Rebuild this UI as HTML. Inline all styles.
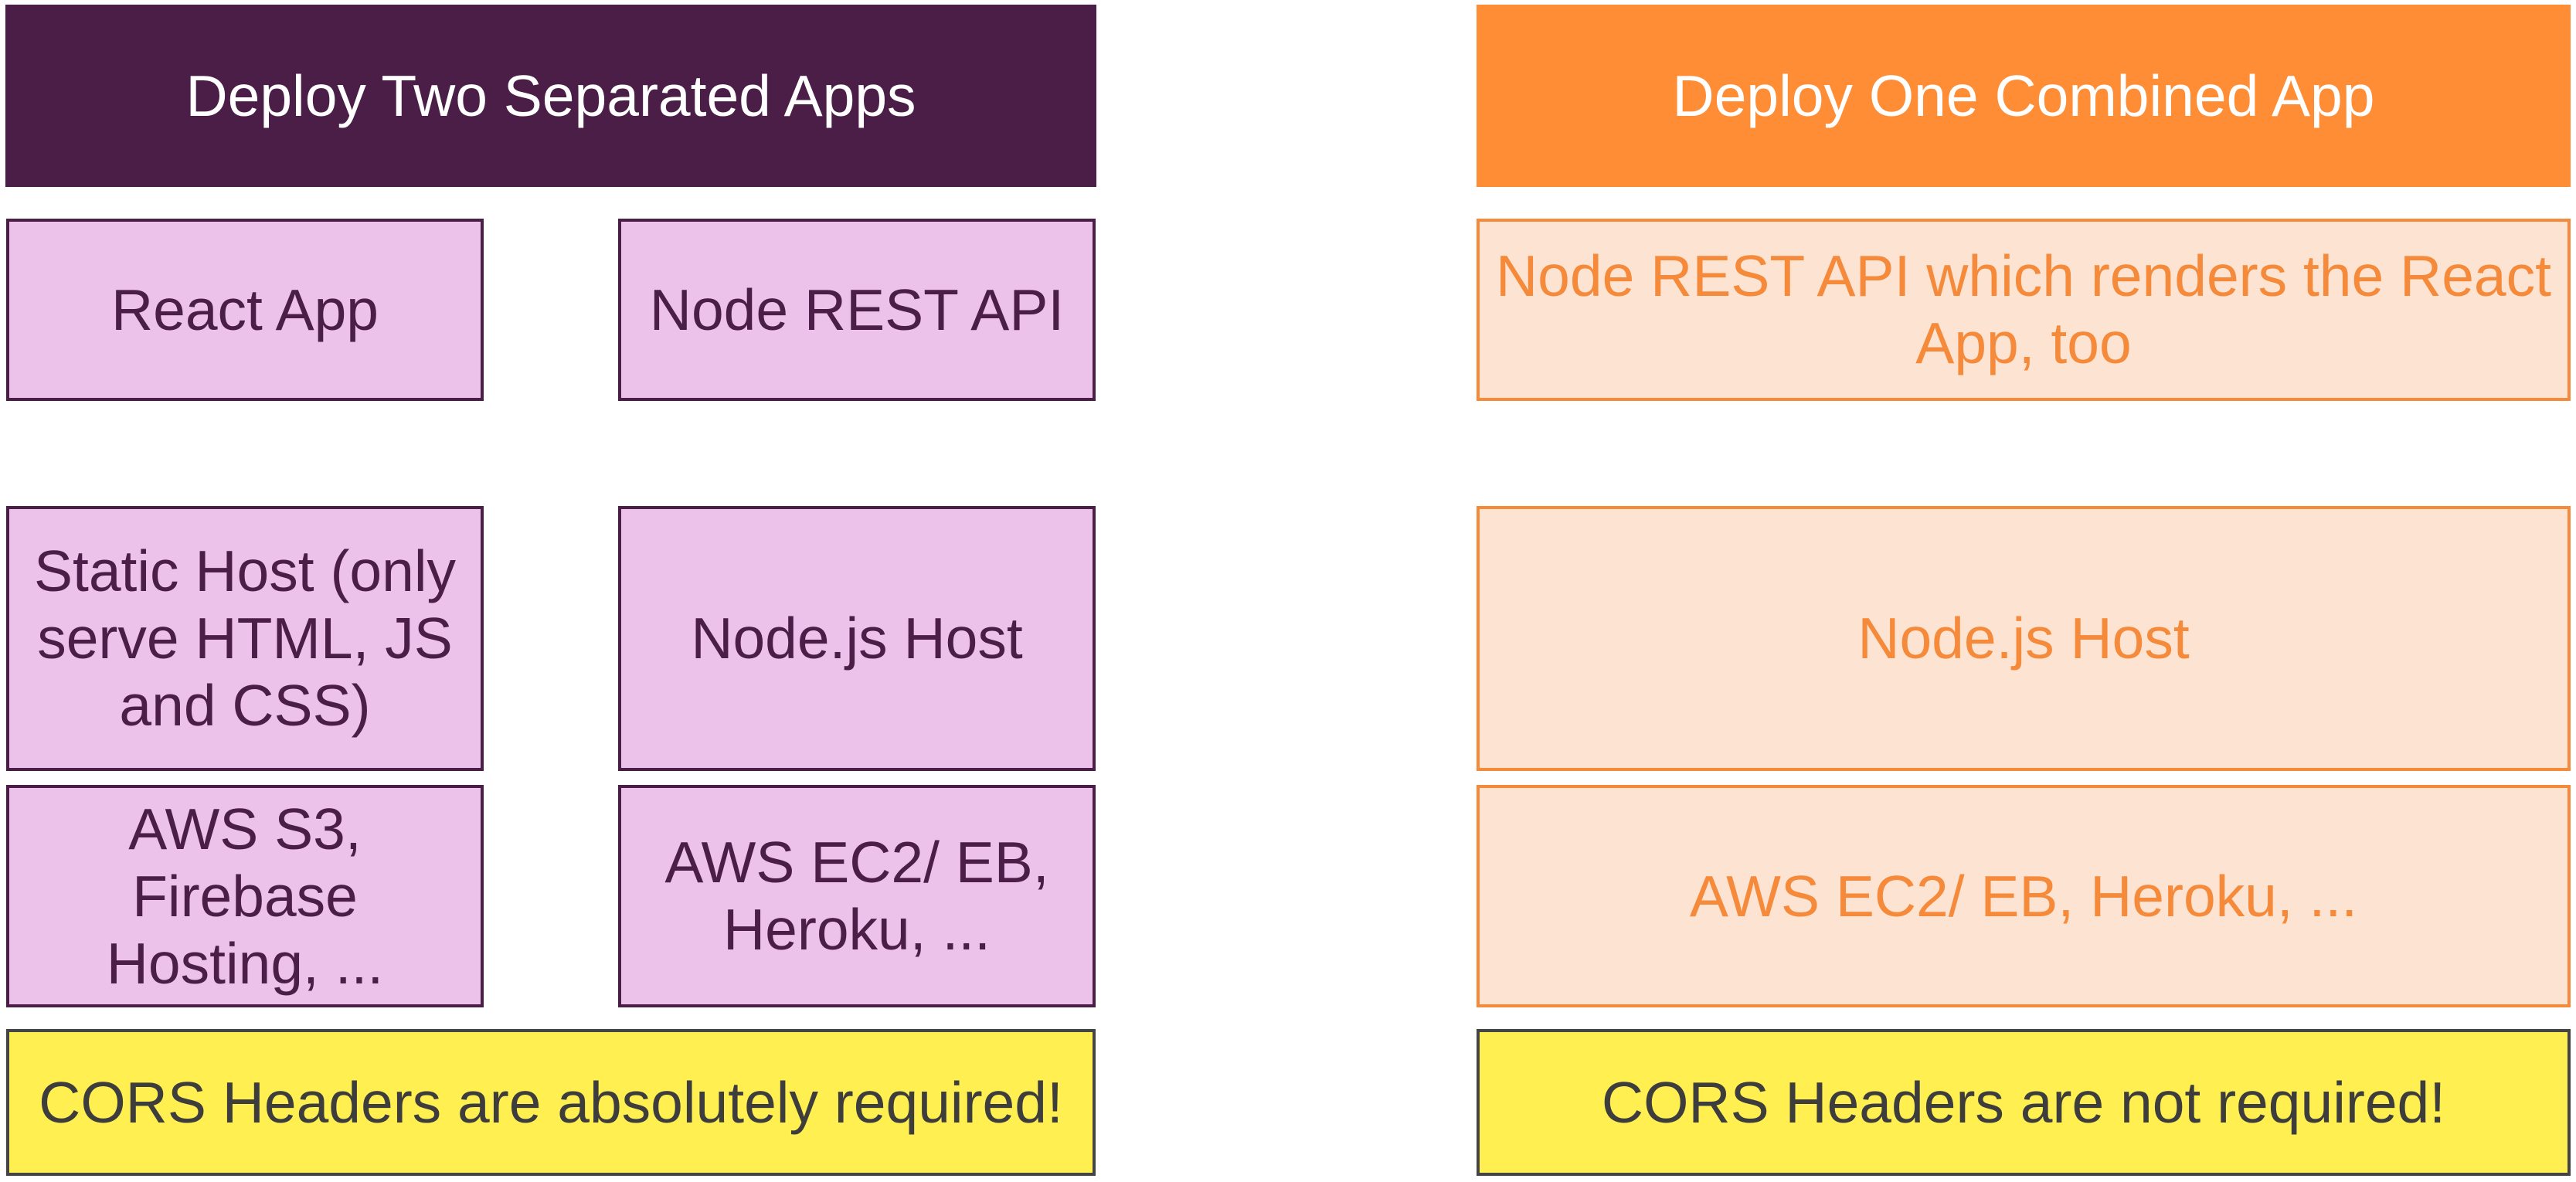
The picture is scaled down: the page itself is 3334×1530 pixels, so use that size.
<!DOCTYPE html>
<html><head><meta charset="utf-8"><style>
html,body{margin:0;padding:0;background:#fff;}
body{width:3334px;height:1530px;position:relative;overflow:hidden;font-family:"Liberation Sans",sans-serif;}
.b{position:absolute;box-sizing:border-box;display:flex;align-items:center;justify-content:center;text-align:center;font-size:75px;line-height:87px;}
.hp{background:#4a1e47;color:#fff;}
.ho{background:#ff8d35;color:#fff;}
.p{background:#ecc1ea;border:4px solid #4a1e47;color:#4a1e47;}
.o{background:#fde3d2;border:4px solid #f58a3a;color:#f58a3a;}
.y{background:#ffef50;border:4px solid #444;color:#3d3d3d;}
</style></head><body>
<div class="b hp" style="left:7px;top:6px;width:1412px;height:236px;">Deploy Two Separated Apps</div>
<div class="b ho" style="left:1911px;top:6px;width:1416px;height:236px;">Deploy One Combined App</div>

<div class="b p" style="left:8px;top:283px;width:618px;height:236px;">React App</div>
<div class="b p" style="left:800px;top:283px;width:618px;height:236px;">Node REST API</div>
<div class="b o" style="left:1911px;top:283px;width:1416px;height:236px;">Node REST API which renders the React<br>App, too</div>

<div class="b p" style="left:8px;top:655px;width:618px;height:343px;">Static Host (only<br>serve HTML, JS<br>and CSS)</div>
<div class="b p" style="left:800px;top:655px;width:618px;height:343px;">Node.js Host</div>
<div class="b o" style="left:1911px;top:655px;width:1416px;height:343px;">Node.js Host</div>

<div class="b p" style="left:8px;top:1016px;width:618px;height:288px;">AWS S3,<br>Firebase<br>Hosting, ...</div>
<div class="b p" style="left:800px;top:1016px;width:618px;height:288px;">AWS EC2/ EB,<br>Heroku, ...</div>
<div class="b o" style="left:1911px;top:1016px;width:1416px;height:288px;">AWS EC2/ EB, Heroku, ...</div>

<div class="b y" style="left:8px;top:1332px;width:1410px;height:190px;">CORS Headers are absolutely required!</div>
<div class="b y" style="left:1911px;top:1332px;width:1416px;height:190px;">CORS Headers are not required!</div>
</body></html>
